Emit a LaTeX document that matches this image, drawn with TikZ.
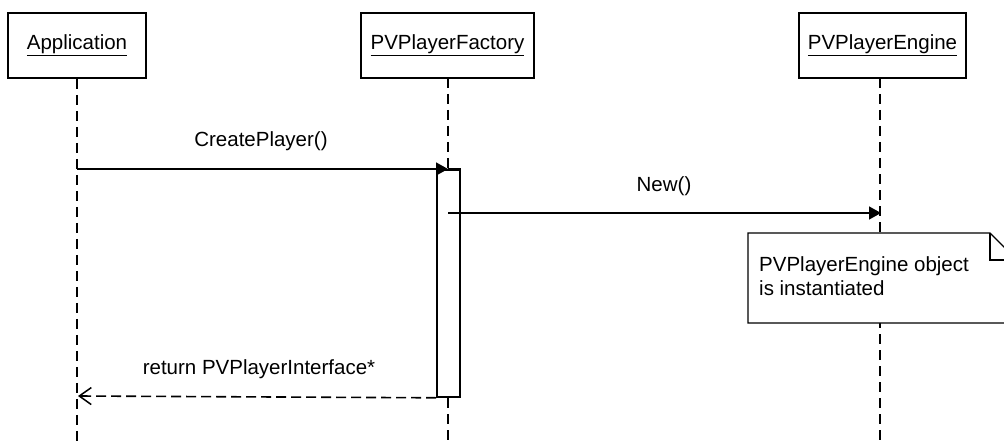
\documentclass[tikz,border=0pt]{standalone}
\usepackage{fontspec}
\setmainfont{Liberation Sans}
\usetikzlibrary{arrows.meta}
\tikzset{
  x=1pt, y=-1pt,
  txt/.style={font=\fontsize{20.5}{24}\selectfont, inner sep=0pt},
  objbox/.style={draw, line width=1.8pt, minimum height=65pt, inner sep=0pt, fill=white, font=\fontsize{20.5}{24}\selectfont},
  lifeline/.style={line width=1.8pt, dash pattern=on 10pt off 6pt},
  activation/.style={draw, line width=1.8pt, fill=white, minimum width=23pt, minimum height=227pt, inner sep=0pt, anchor=north west},
  syncmsg/.style={line width=1.5pt, -{Triangle[length=12pt,width=13pt]}},
  retmsg/.style={line width=1.6pt, dash pattern=on 10pt off 5pt, -{Straight Barb[length=12pt,width=17pt,line width=1.5pt]}},
  notebox/.style={line width=1.1pt}
}
\begin{document}
\begin{tikzpicture}
\useasboundingbox (0,0) rectangle (1004,441);
\clip (0,0) rectangle (1004,441);

% participants
\node[objbox, minimum width=138pt] (app) at (77,45.5) {\underline{Application}};
\node[objbox, minimum width=173pt] (fac) at (447.5,45.5) {\underline{PVPlayerFactory}};
\node[objbox, minimum width=167pt] (eng) at (882.5,45.5) {\underline{PVPlayerEngine}};

% lifelines
\coordinate (appEnd) at (77,441);
\coordinate (facEnd) at (448,441);
\coordinate (engEnd) at (880,441);
\draw[lifeline] (app.south) -- (appEnd);
\draw[lifeline] (448,78) -- (facEnd);
\draw[lifeline] (880,78) -- (engEnd);

% activation bar of the factory
\node[activation] (act) at (436,169) {};

% note attached to the engine lifeline
\draw[notebox, fill=white] (748,233) -- (990,233) -- (1017,260) -- (1017,323) -- (748,323) -- cycle;
\draw[notebox] (990,233) -- (990,260) -- (1017,260);
\node[txt, anchor=north west, align=left] (note) at (759,256) {PVPlayerEngine object\\is instantiated};

% messages
\coordinate (callEnd) at (448,169);
\draw[syncmsg] (77,169) -- (callEnd);
\draw[line width=1.5pt] (callEnd) -- (act.north east);
\node[txt] (lblCreate) at (261,141.5) {CreatePlayer()};

\coordinate (newStart) at (448,213);
\coordinate (newEnd) at (881,213);
\draw[syncmsg] (newStart) -- (newEnd);
\node[txt] (lblNew) at (664,186) {New()};

\coordinate (retEnd) at (78,396);
\draw[retmsg] (act.south west) -- (retEnd);
\node[txt] (lblRet) at (259,369) {return PVPlayerInterface*};
\end{tikzpicture}
\end{document}
